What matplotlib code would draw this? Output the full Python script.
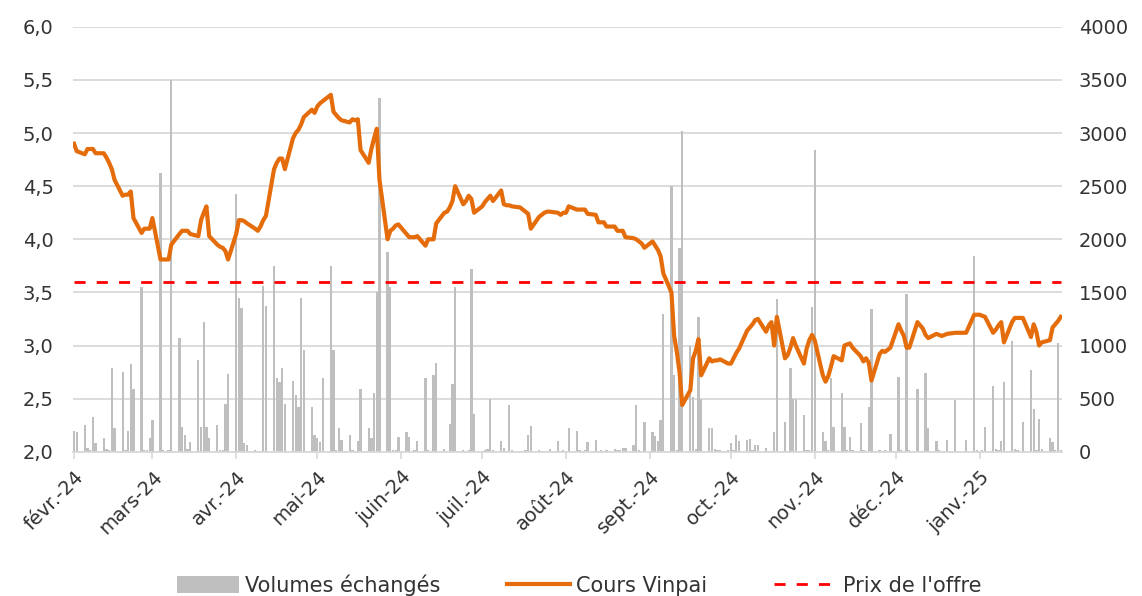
import numpy as np
import pandas as pd
import matplotlib
matplotlib.use("Agg")
import matplotlib.pyplot as plt
from matplotlib.patches import Patch
from matplotlib.lines import Line2D
from matplotlib.ticker import FuncFormatter

# jours de bourse (lun-ven) du 1er fevrier 2024 au 31 janvier 2025
dates = pd.bdate_range("2024-02-01", "2025-01-31")

# cours de l'action (EUR), un mois par ligne
cours = [
    4.90, 4.83, 4.80, 4.85, 4.85, 4.85, 4.81, 4.81, 4.77, 4.72, 4.66, 4.56, 4.41, 4.42, 4.42, 4.45, 4.20, 4.06, 4.10, 4.10, 4.10,
    4.20, 3.81, 3.81, 3.81, 3.81, 3.95, 4.05, 4.08, 4.08, 4.08, 4.05, 4.03, 4.18, 4.25, 4.31, 4.03, 3.95, 3.93, 3.92, 3.89, 3.81,
    4.05, 4.18, 4.18, 4.17, 4.15, 4.10, 4.08, 4.12, 4.18, 4.22, 4.66, 4.72, 4.76, 4.76, 4.66, 4.95, 5.00, 5.03, 5.08, 5.15, 5.22, 5.19,
    5.25, 5.28, 5.30, 5.36, 5.20, 5.17, 5.14, 5.12, 5.10, 5.13, 5.12, 5.13, 4.84, 4.72, 4.85, 4.95, 5.04, 4.56, 4.00, 4.08, 4.10, 4.13, 4.14,
    4.05, 4.02, 4.02, 4.02, 4.03, 3.94, 4.00, 4.00, 4.00, 4.15, 4.25, 4.26, 4.30, 4.36, 4.50, 4.33, 4.36, 4.41, 4.38, 4.25,
    4.31, 4.35, 4.38, 4.41, 4.36, 4.46, 4.33, 4.32, 4.32, 4.31, 4.30, 4.28, 4.26, 4.24, 4.10, 4.21, 4.23, 4.25, 4.26, 4.26, 4.25, 4.23, 4.25,
    4.25, 4.31, 4.28, 4.28, 4.28, 4.28, 4.24, 4.23, 4.16, 4.16, 4.16, 4.12, 4.12, 4.08, 4.08, 4.08, 4.02, 4.01, 4.00, 3.98, 3.96, 3.92,
    3.98, 3.94, 3.90, 3.84, 3.68, 3.50, 3.09, 2.94, 2.75, 2.44, 2.58, 2.88, 2.95, 3.06, 2.72, 2.88, 2.85, 2.86, 2.86, 2.87, 2.83,
    2.83, 2.88, 2.93, 2.97, 3.14, 3.17, 3.20, 3.24, 3.25, 3.13, 3.19, 3.22, 3.00, 3.27, 2.88, 2.91, 2.98, 3.07, 3.00, 2.83, 2.97, 3.05, 3.10,
    3.05, 2.72, 2.66, 2.71, 2.80, 2.90, 2.86, 3.00, 3.01, 3.02, 2.98, 2.90, 2.85, 2.88, 2.84, 2.67, 2.92, 2.95, 2.94, 2.96, 2.98,
    3.20, 3.14, 3.09, 2.98, 2.98, 3.22, 3.19, 3.16, 3.10, 3.07, 3.11, 3.10, 3.09, 3.10, 3.11, 3.12, 3.12, 3.12, 3.12, 3.12, 3.29, 3.29,
    3.29, 3.28, 3.27, 3.12, 3.15, 3.19, 3.22, 3.03, 3.22, 3.26, 3.26, 3.26, 3.26, 3.08, 3.20, 3.13, 3.00, 3.03, 3.05, 3.17, 3.20, 3.23, 3.27,
]

# volumes echanges (nombre de titres), un mois par ligne
volumes = [
    195, 185, 250, 40, 20, 330, 80, 130, 30, 20, 790, 220, 750, 20, 200, 830, 590, 1550, 20, 20, 125,
    300, 2625, 20, 10, 20, 3500, 1070, 235, 155, 30, 95, 860, 235, 1220, 235, 125, 250, 20, 20, 445, 735,
    2430, 1445, 1350, 80, 60, 20, 10, 10, 1560, 1375, 1750, 690, 660, 790, 450, 670, 530, 420, 1445, 960, 420, 155,
    125, 95, 690, 1745, 960, 20, 225, 110, 155, 20, 10, 100, 590, 220, 125, 555, 1500, 3330, 1880, 1550, 20, 20, 140,
    190, 140, 10, 20, 100, 690, 20, 10, 720, 840, 30, 10, 260, 640, 1550, 20, 10, 20, 1720, 360,
    10, 20, 30, 500, 20, 100, 40, 10, 440, 20, 10, 10, 20, 155, 245, 20, 10, 10, 10, 30, 100, 10, 20,
    10, 220, 200, 20, 10, 20, 95, 110, 10, 20, 10, 20, 30, 15, 20, 40, 40, 60, 440, 20, 10, 280,
    190, 150, 100, 300, 1300, 2500, 725, 20, 1920, 3020, 1000, 515, 30, 1265, 500, 225, 220, 30, 20, 20, 20,
    80, 20, 155, 100, 110, 120, 20, 60, 60, 40, 10, 10, 190, 1440, 280, 10, 790, 500, 500, 345, 20, 20, 1360,
    2840, 190, 100, 20, 690, 235, 550, 235, 20, 140, 20, 275, 20, 10, 420, 1340, 20, 10, 20, 10, 170,
    700, 20, 10, 1485, 20, 590, 10, 10, 745, 220, 100, 20, 10, 10, 110, 490, 10, 0, 0, 110, 1840, 20,
    0, 20, 235, 620, 30, 20, 100, 655, 1040, 30, 20, 10, 280, 765, 405, 20, 305, 30, 125, 95, 20, 1025, 20,
]

prix_offre = 3.6

mois = pd.date_range("2024-02-01", "2025-01-01", freq="MS")
etiquettes_mois = ["févr.-24", "mars-24", "avr.-24", "mai-24", "juin-24", "juil.-24",
                   "août-24", "sept.-24", "oct.-24", "nov.-24", "déc.-24", "janv.-25"]

plt.rcParams["font.family"] = ["DejaVu Sans"]
texte = "#333333"

fig = plt.figure(figsize=(11.42, 5.96), dpi=100)
ax_vol = fig.add_axes([0.064, 0.242, 0.866, 0.713])
ax = ax_vol.twinx()

# volumes (axe de droite) en dessous
ax_vol.bar(dates, volumes, width=0.85, color="#bfbfbf", zorder=2)
ax_vol.set_ylim(0, 4000)
ax_vol.set_yticks(np.arange(0, 4001, 500))
ax_vol.grid(axis="y", color="#d9d9d9", linewidth=1.3, zorder=0)
ax_vol.set_axisbelow(True)

# cours et prix de l'offre (axe de gauche) au dessus
ax.plot(dates, cours, color="#e46c0a", linewidth=3.0, solid_joinstyle="round", zorder=4)
ax.plot(dates, np.full(len(dates), prix_offre), color="#ff0000", linewidth=2.0,
        dashes=(4, 4), zorder=3)
ax.set_ylim(2.0, 6.0)
ax.set_yticks(np.arange(2.0, 6.01, 0.5))
ax.yaxis.set_major_formatter(FuncFormatter(lambda v, p: f"{v:.1f}".replace(".", ",")))

ax.set_zorder(ax_vol.get_zorder() + 1)
ax.patch.set_visible(False)

# cours a gauche, volumes a droite
ax.yaxis.tick_left()
ax_vol.yaxis.tick_right()

ax_vol.set_xlim(dates[0] - pd.Timedelta(hours=8), dates[-1] + pd.Timedelta(hours=12))
ax_vol.set_xticks(mois)
ax_vol.set_xticklabels(etiquettes_mois, rotation=45, ha="right", rotation_mode="anchor")

for a in (ax, ax_vol):
    for s in a.spines.values():
        s.set_visible(False)
    a.tick_params(axis="y", length=0, labelsize=14, labelcolor=texte)
ax.tick_params(axis="y", pad=14)
ax_vol.tick_params(axis="y", pad=12)
ax_vol.spines["bottom"].set_visible(True)
ax_vol.spines["bottom"].set_color("#d9d9d9")
ax_vol.spines["bottom"].set_linewidth(1.3)
ax_vol.tick_params(axis="x", length=5, width=1.2, color="#d9d9d9",
                   labelsize=14, labelcolor=texte, pad=6)

poignees = [
    Patch(facecolor="#bfbfbf", edgecolor="none"),
    Line2D([0], [0], color="#e46c0a", linewidth=3.0),
    Line2D([0], [0], color="#ff0000", linewidth=2.0, dashes=(4, 4)),
]
fig.legend(poignees, ["Volumes échangés", "Cours Vinpai", "Prix de l'offre"],
           loc="center", bbox_to_anchor=(0.507, 0.018), ncol=3, frameon=False,
           fontsize=15, labelcolor=texte, handlelength=3.0, handleheight=0.9,
           columnspacing=3.2, handletextpad=0.3)

fig.savefig("out.png", dpi=100)
